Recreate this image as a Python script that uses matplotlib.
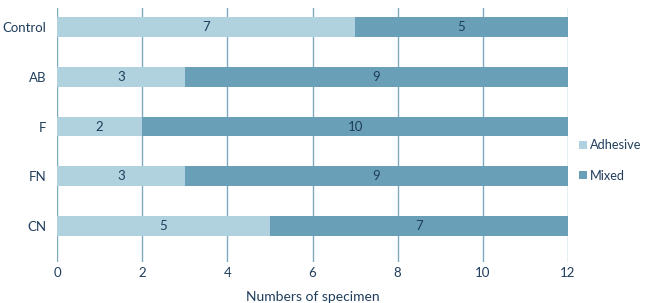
import matplotlib.pyplot as plt

plt.rcParams['font.family'] = ['Lato', 'DejaVu Sans']

groups = ['CN', 'FN', 'F', 'AB', 'Control']
adhesive = [5, 3, 2, 3, 7]
mixed = [7, 9, 10, 9, 5]
xticks = [0, 2, 4, 6, 8, 10, 12]

c_light = '#b0d1de'
c_dark = '#6aa0b7'
c_text = '#1f3d5c'
c_grid = '#7eaac0'

fig = plt.figure(figsize=(6.45, 3.03), dpi=100)
ax = fig.add_axes([57/645, 1 - 262/303, 511/645, 254/303])

ypos = list(range(len(groups)))
ax.barh(ypos, adhesive, height=0.4, color=c_light, label='Adhesive', zorder=2)
ax.barh(ypos, mixed, left=adhesive, height=0.4, color=c_dark, label='Mixed', zorder=2)

for i in ypos:
    ax.text(adhesive[i] / 2, i, str(adhesive[i]), ha='center', va='center',
            fontsize=9.5, color=c_text, zorder=3)
    ax.text(adhesive[i] + mixed[i] / 2, i, str(mixed[i]), ha='center', va='center',
            fontsize=9.5, color=c_text, zorder=3)

ax.set_xlim(0, 12)
ax.set_ylim(-0.72, 4.38)
ax.set_xticks(xticks)
ax.set_yticks(ypos)
ax.set_yticklabels(groups)
ax.xaxis.grid(True, color=c_grid, linewidth=1, zorder=0)
ax.set_axisbelow(True)
for s in ax.spines.values():
    s.set_visible(False)
ax.tick_params(length=0, labelsize=9.5, colors=c_text)
ax.tick_params(axis='y', pad=7.5)
ax.tick_params(axis='x', pad=3.5)
ax.set_xlabel('Numbers of specimen', fontsize=10, color=c_text, labelpad=9)

ax.legend(loc='center left', bbox_to_anchor=(1.0, 0.40), frameon=False,
          fontsize=9.2, labelcolor=c_text, handlelength=0.6, handleheight=0.6,
          handletextpad=0.3, labelspacing=1.45, borderpad=0, borderaxespad=0.85)

fig.savefig('out.png', dpi=100)
